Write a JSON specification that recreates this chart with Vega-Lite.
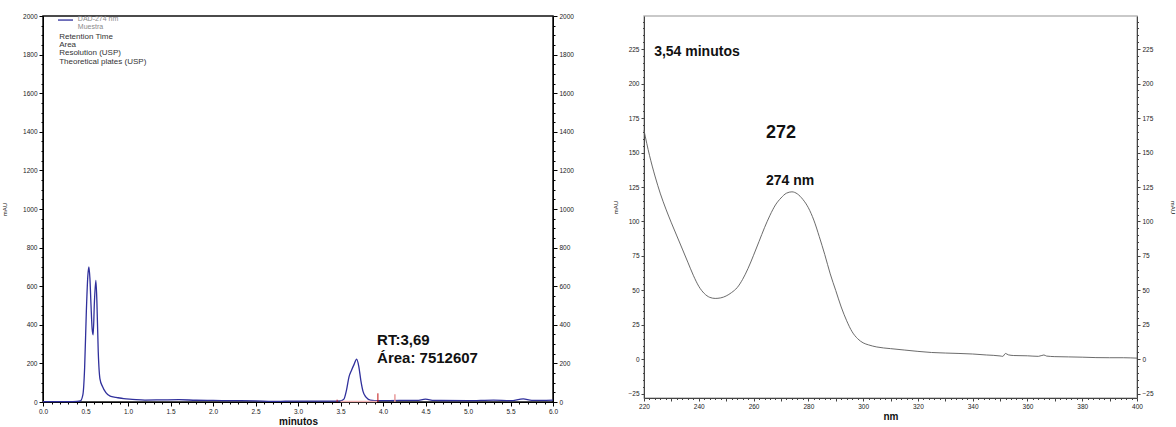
{
  "$schema": "https://vega.github.io/schema/vega-lite/v6.json",
  "padding": {"left": 0, "top": 12, "right": 0, "bottom": 0},
  "spacing": 37,
  "datasets": {
    "chrom": [
      {"t": 0.0, "v": 2}, {"t": 0.1, "v": 2}, {"t": 0.2, "v": 2}, {"t": 0.3, "v": 2}, {"t": 0.4, "v": 3},
      {"t": 0.44, "v": 6}, {"t": 0.47, "v": 40}, {"t": 0.49, "v": 180}, {"t": 0.51, "v": 470},
      {"t": 0.527, "v": 650}, {"t": 0.54, "v": 700}, {"t": 0.552, "v": 640}, {"t": 0.565, "v": 500},
      {"t": 0.578, "v": 380}, {"t": 0.59, "v": 348}, {"t": 0.605, "v": 520}, {"t": 0.622, "v": 630},
      {"t": 0.634, "v": 520}, {"t": 0.65, "v": 260}, {"t": 0.67, "v": 120}, {"t": 0.7, "v": 80},
      {"t": 0.74, "v": 48}, {"t": 0.79, "v": 30}, {"t": 0.86, "v": 24}, {"t": 0.95, "v": 17},
      {"t": 1.05, "v": 14}, {"t": 1.2, "v": 10}, {"t": 1.4, "v": 11}, {"t": 1.6, "v": 12},
      {"t": 1.8, "v": 9}, {"t": 2.0, "v": 8}, {"t": 2.2, "v": 7}, {"t": 2.5, "v": 6}, {"t": 2.7, "v": 3},
      {"t": 2.85, "v": 4}, {"t": 3.0, "v": 5}, {"t": 3.2, "v": 5}, {"t": 3.4, "v": 5}, {"t": 3.5, "v": 6},
      {"t": 3.54, "v": 15}, {"t": 3.57, "v": 60}, {"t": 3.6, "v": 130}, {"t": 3.63, "v": 165},
      {"t": 3.66, "v": 195}, {"t": 3.69, "v": 222}, {"t": 3.715, "v": 185}, {"t": 3.74, "v": 110},
      {"t": 3.765, "v": 55}, {"t": 3.8, "v": 25}, {"t": 3.85, "v": 10}, {"t": 3.95, "v": 7},
      {"t": 4.2, "v": 8}, {"t": 4.4, "v": 8}, {"t": 4.5, "v": 15}, {"t": 4.6, "v": 8}, {"t": 5.0, "v": 7},
      {"t": 5.3, "v": 10}, {"t": 5.5, "v": 7}, {"t": 5.65, "v": 16}, {"t": 5.75, "v": 8}, {"t": 6.0, "v": 10}
    ],
    "spec": [
      {"t": 220, "v": 166}, {"t": 222, "v": 148}, {"t": 224, "v": 133}, {"t": 226, "v": 120},
      {"t": 228, "v": 109}, {"t": 230, "v": 99}, {"t": 232, "v": 89.5}, {"t": 234, "v": 80},
      {"t": 236, "v": 70.5}, {"t": 238, "v": 61}, {"t": 240, "v": 53}, {"t": 242, "v": 47.8},
      {"t": 244, "v": 45}, {"t": 246, "v": 44.2}, {"t": 248, "v": 44.6}, {"t": 250, "v": 46},
      {"t": 252, "v": 48.5}, {"t": 254, "v": 52}, {"t": 256, "v": 58}, {"t": 258, "v": 66},
      {"t": 260, "v": 75.5}, {"t": 262, "v": 85.5}, {"t": 264, "v": 95.5}, {"t": 266, "v": 104.5},
      {"t": 268, "v": 112}, {"t": 270, "v": 117}, {"t": 272, "v": 120.5}, {"t": 274, "v": 121.5},
      {"t": 276, "v": 120}, {"t": 278, "v": 116}, {"t": 280, "v": 110}, {"t": 282, "v": 101},
      {"t": 284, "v": 89}, {"t": 286, "v": 76}, {"t": 288, "v": 62}, {"t": 290, "v": 50},
      {"t": 292, "v": 38}, {"t": 294, "v": 28}, {"t": 296, "v": 20}, {"t": 298, "v": 15},
      {"t": 300, "v": 12}, {"t": 302, "v": 10.5}, {"t": 305, "v": 9}, {"t": 310, "v": 7.8},
      {"t": 315, "v": 6.8}, {"t": 320, "v": 5.8}, {"t": 325, "v": 5}, {"t": 330, "v": 4.6},
      {"t": 335, "v": 4.3}, {"t": 340, "v": 3.9}, {"t": 345, "v": 3.2}, {"t": 350, "v": 2.5},
      {"t": 351, "v": 2.2}, {"t": 352, "v": 4.3}, {"t": 353, "v": 3.3}, {"t": 355, "v": 2.8},
      {"t": 360, "v": 2.6}, {"t": 364, "v": 2.2}, {"t": 366, "v": 3.2}, {"t": 367, "v": 2.4},
      {"t": 370, "v": 2.0}, {"t": 375, "v": 1.8}, {"t": 380, "v": 1.6}, {"t": 385, "v": 1.3},
      {"t": 390, "v": 1.2}, {"t": 395, "v": 1.2}, {"t": 400, "v": 0.9}
    ]
  },
  "hconcat": [
    {
      "width": 510,
      "height": 386,
      "view": {"stroke": "#111", "strokeWidth": 1.5},
      "resolve": {"axis": {"x": "independent", "y": "independent"}},
      "layer": [
        {
          "data": {"name": "chrom"},
          "mark": {"type": "line", "color": "#30309c", "strokeWidth": 1.3, "interpolate": "monotone"},
          "encoding": {
            "x": {
              "field": "t", "type": "quantitative",
              "scale": {"domain": [0, 6], "nice": false},
              "axis": {
                "title": "minutos", "titleFontSize": 10, "titleFontWeight": "bold", "titlePadding": 2,
                "values": [0,0.1,0.2,0.3,0.4,0.5,0.6,0.7,0.8,0.9,1,1.1,1.2,1.3,1.4,1.5,1.6,1.7,1.8,1.9,2,2.1,2.2,2.3,2.4,2.5,2.6,2.7,2.8,2.9,3,3.1,3.2,3.3,3.4,3.5,3.6,3.7,3.8,3.9,4,4.1,4.2,4.3,4.4,4.5,4.6,4.7,4.8,4.9,5,5.1,5.2,5.3,5.4,5.5,5.6,5.7,5.8,5.9,6],
                "labelExpr": "abs(datum.value*2 - round(datum.value*2)) < 0.001 ? format(datum.value, '.1f') : ''",
                "tickSize": {"condition": {"test": "abs(datum.value*2 - round(datum.value*2)) < 0.001", "value": 4}, "value": 2},
                "labelOverlap": false, "labelFlush": false, "labelPadding": 2
              }
            },
            "y": {
              "field": "v", "type": "quantitative",
              "scale": {"domain": [0, 2000], "nice": false},
              "axis": {
                "orient": "left", "title": "mAU", "titleFontSize": 6, "titleFontWeight": "normal", "titlePadding": 15,
                "values": [0,50,100,150,200,250,300,350,400,450,500,550,600,650,700,750,800,850,900,950,1000,1050,1100,1150,1200,1250,1300,1350,1400,1450,1500,1550,1600,1650,1700,1750,1800,1850,1900,1950,2000],
                "format": "d",
                "labelExpr": "datum.value % 200 === 0 ? datum.label : ''",
                "tickSize": {"condition": {"test": "datum.value % 200 === 0", "value": 4}, "value": 2},
                "labelOverlap": false, "labelFlush": false, "labelPadding": 2
              }
            }
          }
        },
        {
          "data": {"values": [{"t": 3.46, "v": 0, "v2": 12}, {"t": 3.94, "v": 0, "v2": 45}]},
          "mark": {"type": "rule", "color": "#c01010", "strokeWidth": 1},
          "encoding": {
            "x": {"field": "t", "type": "quantitative", "scale": {"domain": [0, 6], "nice": false}, "axis": null},
            "y": {
              "field": "v", "type": "quantitative",
              "scale": {"domain": [0, 2000], "nice": false},
              "axis": {
                "orient": "right", "title": null,
                "values": [0,50,100,150,200,250,300,350,400,450,500,550,600,650,700,750,800,850,900,950,1000,1050,1100,1150,1200,1250,1300,1350,1400,1450,1500,1550,1600,1650,1700,1750,1800,1850,1900,1950,2000],
                "format": "d",
                "labelExpr": "datum.value % 200 === 0 ? datum.label : ''",
                "tickSize": {"condition": {"test": "datum.value % 200 === 0", "value": 4}, "value": 2},
                "labelOverlap": false, "labelFlush": false, "labelPadding": 2
              }
            },
            "y2": {"field": "v2"}
          }
        },
        {
          "data": {"values": [{"t": 4.14, "v": 0, "v2": 40}]},
          "mark": {"type": "rule", "color": "#e89a9a", "strokeWidth": 1.5},
          "encoding": {
            "x": {"field": "t", "type": "quantitative", "scale": {"domain": [0, 6], "nice": false}, "axis": null},
            "y": {"field": "v", "type": "quantitative", "scale": {"domain": [0, 2000], "nice": false}, "axis": null},
            "y2": {"field": "v2"}
          }
        },
        {
          "data": {"values": [{"t": 3.5, "t2": 3.93, "v": 3}]},
          "mark": {"type": "rule", "color": "#f0b0b0", "strokeWidth": 1.5},
          "encoding": {
            "x": {"field": "t", "type": "quantitative", "scale": {"domain": [0, 6], "nice": false}, "axis": null},
            "x2": {"field": "t2"},
            "y": {"field": "v", "type": "quantitative", "scale": {"domain": [0, 2000], "nice": false}, "axis": null}
          }
        },
        {
          "data": {"values": [{"t": 0.176, "t2": 0.353, "v": 1979}]},
          "mark": {"type": "rule", "color": "#30309c", "strokeWidth": 1.3},
          "encoding": {
            "x": {"field": "t", "type": "quantitative", "scale": {"domain": [0, 6], "nice": false}, "axis": null},
            "x2": {"field": "t2"},
            "y": {"field": "v", "type": "quantitative", "scale": {"domain": [0, 2000], "nice": false}, "axis": null}
          }
        },
        {
          "data": {"values": [{"t": 0.41, "v": 1983, "label": "DAD-274 nm"}, {"t": 0.41, "v": 1945, "label": "Muestra"}]},
          "mark": {"type": "text", "align": "left", "baseline": "middle", "fontSize": 7, "color": "#8a8a8a", "font": "Liberation Sans"},
          "encoding": {
            "x": {"field": "t", "type": "quantitative", "scale": {"domain": [0, 6], "nice": false}, "axis": null},
            "y": {"field": "v", "type": "quantitative", "scale": {"domain": [0, 2000], "nice": false}, "axis": null},
            "text": {"field": "label"}
          }
        },
        {
          "data": {"values": [
            {"t": 0.19, "v": 1893, "label": "Retention Time"},
            {"t": 0.19, "v": 1850, "label": "Area"},
            {"t": 0.19, "v": 1807, "label": "Resolution (USP)"},
            {"t": 0.19, "v": 1764, "label": "Theoretical plates (USP)"}
          ]},
          "mark": {"type": "text", "align": "left", "baseline": "middle", "fontSize": 8, "color": "#333", "font": "Liberation Sans"},
          "encoding": {
            "x": {"field": "t", "type": "quantitative", "scale": {"domain": [0, 6], "nice": false}, "axis": null},
            "y": {"field": "v", "type": "quantitative", "scale": {"domain": [0, 2000], "nice": false}, "axis": null},
            "text": {"field": "label"}
          }
        },
        {
          "data": {"values": [
            {"t": 3.93, "v": 320, "label": "RT:3,69"},
            {"t": 3.93, "v": 227, "label": "Área: 7512607"}
          ]},
          "mark": {"type": "text", "align": "left", "baseline": "middle", "fontSize": 15, "fontWeight": "bold", "color": "#111", "font": "Liberation Sans"},
          "encoding": {
            "x": {"field": "t", "type": "quantitative", "scale": {"domain": [0, 6], "nice": false}, "axis": null},
            "y": {"field": "v", "type": "quantitative", "scale": {"domain": [0, 2000], "nice": false}, "axis": null},
            "text": {"field": "label"}
          }
        }
      ]
    },
    {
      "width": 493,
      "height": 382,
      "view": {"stroke": "#b8b8b8", "strokeWidth": 1.5},
      "resolve": {"axis": {"x": "independent", "y": "independent"}},
      "layer": [
        {
          "data": {"name": "spec"},
          "mark": {"type": "line", "color": "#5a5a5a", "strokeWidth": 0.9, "interpolate": "monotone"},
          "encoding": {
            "x": {
              "field": "t", "type": "quantitative",
              "scale": {"domain": [220, 400], "nice": false},
              "axis": {
                "title": "nm", "titleFontSize": 10, "titleFontWeight": "bold", "titlePadding": 2,
                "domainColor": "#444", "tickColor": "#444",
                "values": [220,222,224,226,228,230,232,234,236,238,240,242,244,246,248,250,252,254,256,258,260,262,264,266,268,270,272,274,276,278,280,282,284,286,288,290,292,294,296,298,300,302,304,306,308,310,312,314,316,318,320,322,324,326,328,330,332,334,336,338,340,342,344,346,348,350,352,354,356,358,360,362,364,366,368,370,372,374,376,378,380,382,384,386,388,390,392,394,396,398,400],
                "labelExpr": "datum.value % 20 === 0 ? datum.label : ''",
                "tickSize": {"condition": {"test": "datum.value % 10 === 0", "value": 3}, "value": 1.5},
                "labelOverlap": false, "labelFlush": false, "labelPadding": 2
              }
            },
            "y": {
              "field": "v", "type": "quantitative",
              "scale": {"domain": [-28, 249], "nice": false, "zero": false},
              "axis": {
                "orient": "left", "title": "mAU", "titleFontSize": 6, "titleFontWeight": "normal", "titlePadding": 9,
                "domainColor": "#444", "tickColor": "#444",
                "values": [-25,-20,-15,-10,-5,0,5,10,15,20,25,30,35,40,45,50,55,60,65,70,75,80,85,90,95,100,105,110,115,120,125,130,135,140,145,150,155,160,165,170,175,180,185,190,195,200,205,210,215,220,225,230,235,240,245],
                "labelExpr": "datum.value % 25 === 0 ? datum.label : ''",
                "tickSize": {"condition": {"test": "datum.value % 25 === 0", "value": 3}, "value": 1.5},
                "labelOverlap": false, "labelFlush": false, "labelPadding": 2
              }
            }
          }
        },
        {
          "data": {"values": [
            {"t": 223.7, "v": 223, "label": "3,54 minutos"}
          ]},
          "mark": {"type": "text", "align": "left", "baseline": "middle", "fontSize": 14, "fontWeight": "bold", "color": "#111", "font": "Liberation Sans"},
          "encoding": {
            "x": {"field": "t", "type": "quantitative", "scale": {"domain": [220, 400], "nice": false}, "axis": null},
            "y": {
              "field": "v", "type": "quantitative",
              "scale": {"domain": [-28, 249], "nice": false, "zero": false},
              "axis": {
                "orient": "right", "title": "mAU", "titleFontSize": 6, "titleFontWeight": "normal", "titlePadding": 16,
                "domainColor": "#444", "tickColor": "#444",
                "values": [-25,-20,-15,-10,-5,0,5,10,15,20,25,30,35,40,45,50,55,60,65,70,75,80,85,90,95,100,105,110,115,120,125,130,135,140,145,150,155,160,165,170,175,180,185,190,195,200,205,210,215,220,225,230,235,240,245],
                "labelExpr": "datum.value % 25 === 0 ? datum.label : ''",
                "tickSize": {"condition": {"test": "datum.value % 25 === 0", "value": 3}, "value": 1.5},
                "labelOverlap": false, "labelFlush": false, "labelPadding": 2
              }
            },
            "text": {"field": "label"}
          }
        },
        {
          "data": {"values": [{"t": 264.5, "v": 164.5, "label": "272"}]},
          "mark": {"type": "text", "align": "left", "baseline": "middle", "fontSize": 18, "fontWeight": "bold", "color": "#111", "font": "Liberation Sans"},
          "encoding": {
            "x": {"field": "t", "type": "quantitative", "scale": {"domain": [220, 400], "nice": false}, "axis": null},
            "y": {"field": "v", "type": "quantitative", "scale": {"domain": [-28, 249], "nice": false, "zero": false}, "axis": null},
            "text": {"field": "label"}
          }
        },
        {
          "data": {"values": [{"t": 264.5, "v": 129.7, "label": "274 nm"}]},
          "mark": {"type": "text", "align": "left", "baseline": "middle", "fontSize": 14, "fontWeight": "bold", "color": "#111", "font": "Liberation Sans"},
          "encoding": {
            "x": {"field": "t", "type": "quantitative", "scale": {"domain": [220, 400], "nice": false}, "axis": null},
            "y": {"field": "v", "type": "quantitative", "scale": {"domain": [-28, 249], "nice": false, "zero": false}, "axis": null},
            "text": {"field": "label"}
          }
        }
      ]
    }
  ],
  "config": {
    "font": "Liberation Sans",
    "view": {"stroke": null},
    "axis": {
      "grid": false,
      "labelOverlap": false,
      "labelFont": "Liberation Sans",
      "labelFontSize": 6.5,
      "labelColor": "#222",
      "titleFont": "Liberation Sans",
      "titleColor": "#111",
      "domainColor": "#000",
      "tickColor": "#000",
      "tickWidth": 1
    }
  }
}
